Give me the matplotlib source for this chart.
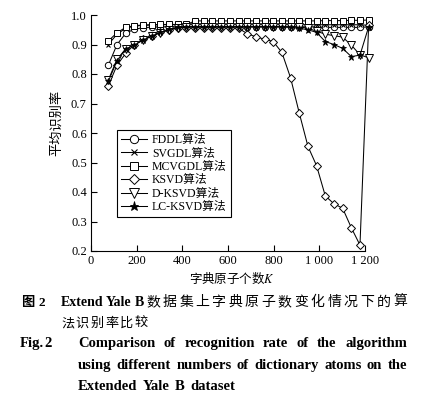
import numpy as np
import matplotlib
matplotlib.use('Agg')
import matplotlib.pyplot as plt

# fonts: Times-like for latin, CJK fallback for the chinese text
serif = ['Liberation Serif', 'Noto Sans CJK SC']
cjk = ['Noto Sans CJK SC', 'Liberation Serif']
plt.rcParams['font.family'] = serif
plt.rcParams['mathtext.fontset'] = 'stix'

# number of dictionary atoms K (38 classes x k)
K = [76, 114, 152, 190, 228, 266, 304, 342, 380, 418, 456, 494, 532, 570, 608, 646,
     684, 722, 760, 798, 836, 874, 912, 950, 988, 1026, 1064, 1102, 1140, 1178, 1216]

fddl = [0.830, 0.900, 0.938, 0.952, 0.957, 0.959, 0.960, 0.960, 0.960, 0.960, 0.960,
        0.960, 0.960, 0.960, 0.960, 0.960, 0.960, 0.960, 0.960, 0.960, 0.960, 0.960,
        0.960, 0.960, 0.960, 0.958, 0.958, 0.958, 0.958, 0.958, 0.960]
svgdl = [0.900, 0.935, 0.955, 0.962, 0.965, 0.966, 0.967, 0.967, 0.967, 0.967, 0.967,
         0.967, 0.967, 0.967, 0.967, 0.967, 0.967, 0.967, 0.967, 0.967, 0.967, 0.967,
         0.967, 0.967, 0.967, 0.967, 0.967, 0.967, 0.967, 0.967, 0.965]
mcvgdl = [0.912, 0.940, 0.958, 0.964, 0.966, 0.967, 0.968, 0.968, 0.968, 0.968, 0.980,
          0.980, 0.980, 0.980, 0.980, 0.980, 0.980, 0.980, 0.980, 0.980, 0.980, 0.980,
          0.980, 0.980, 0.980, 0.981, 0.981, 0.981, 0.982, 0.982, 0.983]
ksvd = [0.760, 0.830, 0.870, 0.900, 0.918, 0.930, 0.942, 0.950, 0.955, 0.955, 0.955,
        0.955, 0.955, 0.955, 0.955, 0.955, 0.937, 0.926, 0.918, 0.910, 0.873, 0.787,
        0.668, 0.555, 0.489, 0.387, 0.360, 0.345, 0.279, 0.220, 0.965]
dksvd = [0.780, 0.850, 0.885, 0.900, 0.915, 0.928, 0.940, 0.950, 0.957, 0.960, 0.960,
         0.960, 0.960, 0.960, 0.960, 0.960, 0.960, 0.960, 0.960, 0.960, 0.960, 0.960,
         0.960, 0.955, 0.945, 0.935, 0.930, 0.925, 0.898, 0.865, 0.855]
lcksvd = [0.775, 0.845, 0.885, 0.898, 0.915, 0.929, 0.941, 0.951, 0.958, 0.960, 0.960,
          0.960, 0.960, 0.960, 0.960, 0.960, 0.960, 0.960, 0.960, 0.960, 0.960, 0.958,
          0.955, 0.950, 0.941, 0.910, 0.900, 0.887, 0.859, 0.864, 0.960]

names = ['FDDL算法', 'SVGDL算法', 'MCVGDL算法', 'KSVD算法', 'D-KSVD算法', 'LC-KSVD算法']
series = [fddl, svgdl, mcvgdl, ksvd, dksvd, lcksvd]
styles = [dict(marker='o', mfc='white', ms=4.6, mew=0.7),
          dict(marker='x', ms=3.5, mew=0.8),
          dict(marker='s', mfc='white', ms=4.3, mew=0.7),
          dict(marker='D', mfc='white', ms=3.6, mew=0.7),
          dict(marker='v', mfc='white', ms=5.2, mew=0.7),
          dict(marker='*', mfc='black', ms=5, mew=0.6)]

xticks = [0, 200, 400, 600, 800, 1000, 1200]
xticklabels = ['0', '200', '400', '600', '800', '1 000', '1 200']
yticks = [0.2, 0.3, 0.4, 0.5, 0.6, 0.7, 0.8, 0.9, 1.0]

W, H = 421, 395
fig = plt.figure(figsize=(W / 100, H / 100), dpi=100)
ax = fig.add_axes([91 / W, 1 - 251 / H, (365 - 91) / W, (251 - 15) / H])

for name, vals, st in zip(names, series, styles):
    ax.plot(K, vals, color='black', lw=0.75, mec='black', label=name, clip_on=False, **st)

ax.set_xlim(0, 1200)
ax.set_ylim(0.2, 1.0)
ax.set_xticks(xticks)
ax.set_xticklabels(xticklabels)
ax.set_yticks(yticks)
ax.set_yticklabels(['%.1f' % v for v in yticks])
ax.tick_params(direction='in', length=4, width=0.8, labelsize=9, pad=3)
for s in ['top', 'right']:
    ax.spines[s].set_visible(False)
for s in ['left', 'bottom']:
    ax.spines[s].set_linewidth(0.8)

leg = ax.legend(loc='upper left', bbox_to_anchor=(0.095, 0.513), fancybox=False,
                edgecolor='black', framealpha=1, handlelength=2.2, labelspacing=0.12,
                handletextpad=0.4, borderpad=0.35, borderaxespad=0, markerscale=1.3,
                prop={'family': serif, 'size': 8.5})
leg.get_frame().set_linewidth(0.8)

fig.text(57 / W, 1 - 123 / H, '平均识别率', rotation=90, ha='center', va='center',
         family=cjk, fontsize=9.5)
fig.text(232 / W, 1 - 278 / H, '字典原子个数$K$', ha='center', va='center',
         family=cjk, fontsize=9)

# caption, justified lines
renderer = fig.canvas.get_renderer()


def put_line(words, x0, x1, y, justify=True, fams=None, weights=None, size=10.5):
    texts = []
    for i, w in enumerate(words):
        fam = fams[i] if fams else serif
        wt = weights[i] if weights else 'bold'
        t = fig.text(0, 1 - y / H, w, family=fam, weight=wt, fontsize=size, va='baseline')
        texts.append(t)
    widths = [t.get_window_extent(renderer).width for t in texts]
    if justify and len(words) > 1:
        gap = (x1 - x0 - sum(widths)) / (len(words) - 1)
    else:
        gap = size * 0.3 * 100 / 72 + 1
    x = x0
    for t, w in zip(texts, widths):
        t.set_x(x / W)
        x += w + gap


cn1 = list('数据集上字典原子数变化情况下的算')
put_line(['图', '2'], 21, 45, 306, fams=[cjk, serif], size=9.5)
put_line(['Extend', 'Yale', 'B'] + cn1, 61, 407, 306,
         fams=[serif] * 3 + [cjk] * len(cn1),
         weights=['bold'] * 3 + ['normal'] * len(cn1), size=10)
cn2 = list('法识别率比较')
put_line(cn2, 61, 148, 327, fams=[cjk] * 6, weights=['normal'] * 6, size=9.5)

put_line(['Fig.', '2'], 20, 52, 347)
put_line('Comparison of recognition rate of the algorithm'.split(), 78, 407, 347)
put_line('using different numbers of dictionary atoms on the'.split(), 78, 407, 369)
put_line('Extended Yale B dataset'.split(), 78, 407, 390, justify=False)

fig.savefig('out.png', dpi=100)
